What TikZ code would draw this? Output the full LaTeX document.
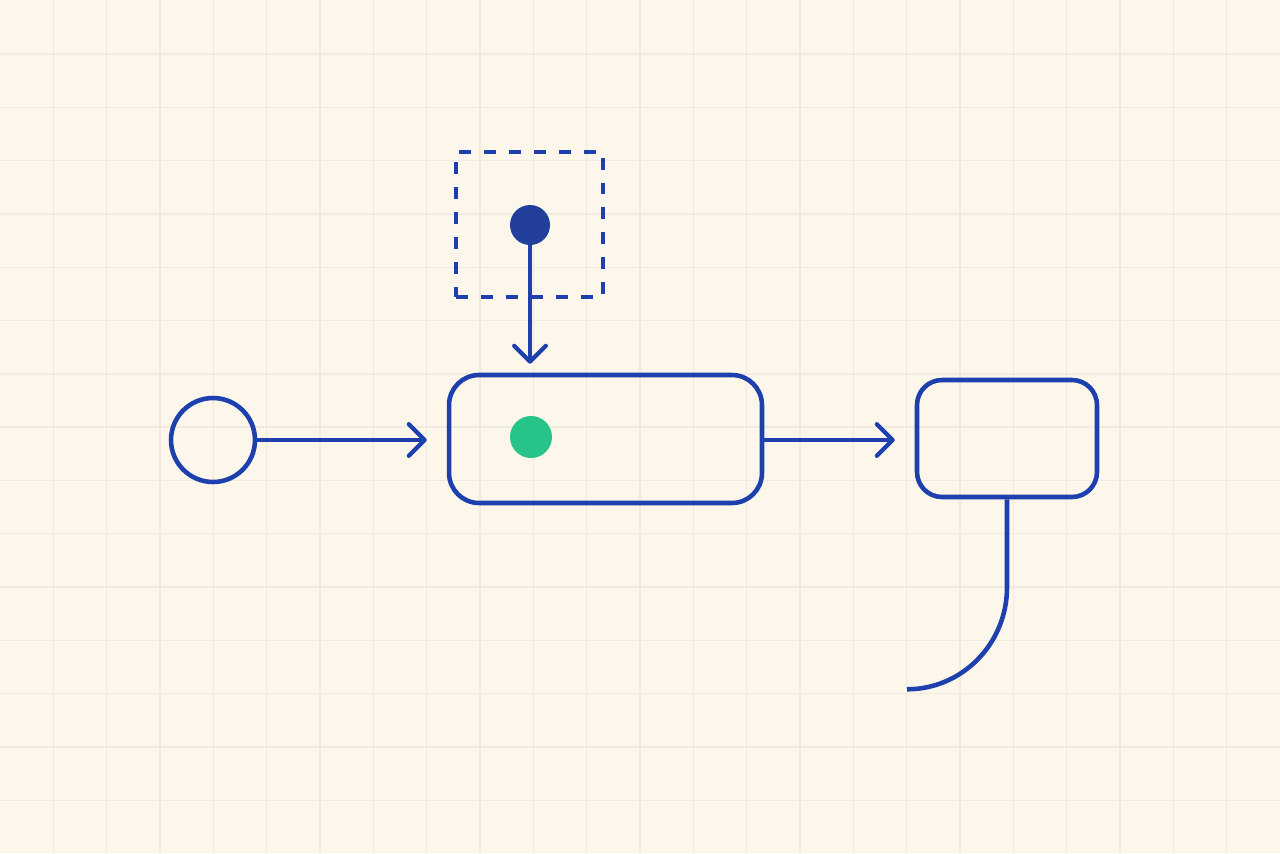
\documentclass[tikz,border=0pt]{standalone}
\usetikzlibrary{arrows.meta}
\definecolor{bg}{HTML}{FCF6EB}
\definecolor{gridc}{HTML}{EFEBE0}
\definecolor{lineblue}{HTML}{1E40AF}
\definecolor{darkdot}{HTML}{233F9C}
\definecolor{greendot}{HTML}{27C48A}
\tikzset{
  x=0.02cm, y=-0.02cm,
  gridline/.style={draw=gridc, line width=0.8pt},
  outline/.style={draw=lineblue, line width=2.6pt},
  arr/.style={draw=lineblue, line width=2.4pt, -{Straight Barb[length=9pt,width=18pt,line width=2.4pt,round]}},
  dashbox/.style={draw=lineblue, line width=2.2pt, dash pattern=on 6.8pt off 7.4pt, minimum width=2.94cm, minimum height=2.9cm, inner sep=0pt},
  dot/.style={circle, inner sep=0pt},
}
\begin{document}
\begin{tikzpicture}
\useasboundingbox (0,0) rectangle (1280,853);
\fill[bg] (0,0) rectangle (1280,853);
\foreach \i in {1,...,23} { \draw[gridline] ({\i*53.333},0) -- ({\i*53.333},853); }
\foreach \j in {0,...,14} { \draw[gridline] (0,{54+\j*53.3}) -- (1280,{54+\j*53.3}); }

\node[dashbox] (frame) at (529.5,224.5) {};
\node[dot, fill=darkdot, minimum size=0.8cm] (src) at (530,225) {};
\node[circle, outline, minimum size=1.68cm, inner sep=0pt] (start) at (213,440) {};
\node[outline, rounded corners=0.6cm, minimum width=6.26cm, minimum height=2.56cm, inner sep=0pt] (main) at (605.5,439) {};
\node[dot, fill=greendot, minimum size=0.84cm] (g) at (531,437) {};
\node[outline, rounded corners=0.5cm, minimum width=3.6cm, minimum height=2.34cm, inner sep=0pt] (right) at (1007,438.5) {};

\draw[arr, shorten >=0.4cm] (start.east) -- (main.west |- start.east);
\draw[arr, shorten >=0.4cm] (main.east |- start.east) -- (right.west |- start.east);
\draw[arr, shorten >=0.18cm] (src.south) -- (src |- main.north);
\draw[draw=lineblue, line width=2.6pt] (right.south) -- ++(0,88) arc[start angle=0, end angle=90, x radius=100, y radius=102];
\end{tikzpicture}
\end{document}
